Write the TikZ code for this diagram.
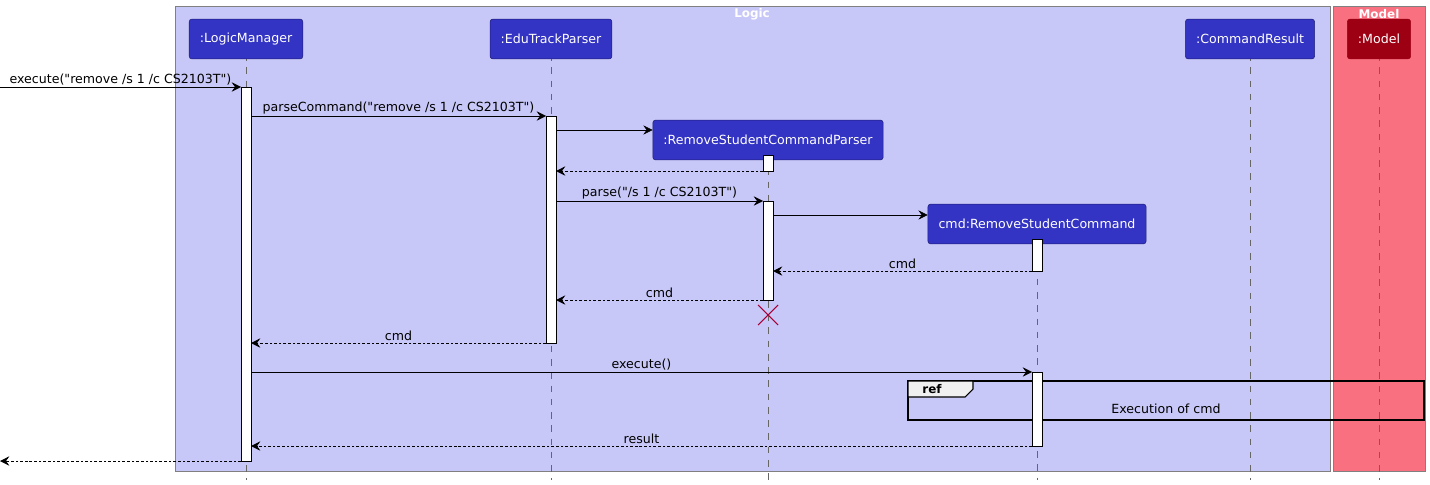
\documentclass[tikz,border=0pt]{standalone}
\usepackage{fontspec}
\setmainfont{DejaVu Sans}
\newfontfamily\dvsans{DejaVu Sans}
\usetikzlibrary{arrows.meta,positioning}
\definecolor{logicbg}{HTML}{C8C8F8}
\definecolor{headbg}{HTML}{3333C4}
\definecolor{modelbg}{HTML}{F97181}
\definecolor{modelhead}{HTML}{9D0012}
\definecolor{killcol}{HTML}{A80036}
\tikzset{
 head/.style={draw=headbg!60!black,fill=headbg,text=white,rounded corners=2pt,minimum height=30,inner xsep=8,font=\dvsans\fontsize{9.5}{11}\selectfont},
 life/.style={gray!80!black,dash pattern=on 5 off 5,very thin},
 act/.style={draw=black,fill=white,thin},
 msg/.style={-{Stealth[length=7pt,width=7pt,inset=2.5pt]},thin},
 ret/.style={msg,dash pattern=on 2pt off 1.5pt},
 lbl/.style={font=\dvsans\fontsize{9.5}{11}\selectfont,inner sep=1.5pt}
}
\begin{document}
\begin{tikzpicture}[x=0.0265cm,y=-0.0265cm]
\useasboundingbox (0,0) rectangle (1430,484);
% boxes
\fill[logicbg,draw=gray] (175,6) rectangle (1330,471);
\fill[modelbg,draw=gray] (1333,6) rectangle (1425,471);
\node[text=white,font=\bfseries\fontsize{9}{10}\selectfont] at (752,14) {Logic};
\node[text=white,font=\bfseries\fontsize{9}{10}\selectfont] at (1379,14) {Model};
% lifelines
\foreach \x in {246,551,1250,1379} \draw[life] (\x,54) -- (\x,480);
\draw[life] (768,155) -- (768,480);
\draw[life] (1037,239) -- (1037,480);
% participants
\node[head] (lm) at (246,39) {:LogicManager};
\node[head] (etp) at (551,39) {:EduTrackParser};
\node[head] (cr) at (1250,39) {:CommandResult};
\node[head,fill=modelhead,draw=modelhead] (mdl) at (1379,39) {:Model};
\node[head] (rscp) at (768,140) {:RemoveStudentCommandParser};
\node[head] (rsc) at (1037,224) {cmd:RemoveStudentCommand};
% activations
\draw[act] (241,87) rectangle (251,461);
\draw[act] (546,116) rectangle (556,343);
\draw[act] (763,155) rectangle (773,171);
\draw[act] (763,201) rectangle (773,300);
\draw[act] (1032,239) rectangle (1042,271);
% ref frame
\draw[thick] (908,381) rectangle (1424,420);
\draw[thick,fill=gray!12] (908,381) -- (973,381) -- (973,389) -- (965,397) -- (908,397) -- cycle;
\node[font=\bfseries\fontsize{9}{10}\selectfont] at (932,389) {ref};
\node[lbl] at (1166,409) {Execution of cmd};
\draw[act] (1032,372) rectangle (1042,446);
% messages
\coordinate (in) at (0,87); \coordinate (lmA) at (241,87);
\draw[msg] (in) -- node[lbl,above]{execute("remove /s 1 /c CS2103T")} (lmA);
\coordinate (lmB) at (251,116); \coordinate (etpB) at (546,116);
\draw[msg] (lmB) -- node[lbl,above]{parseCommand("remove /s 1 /c CS2103T")} (etpB);
\coordinate (etpC) at (556,130);
\draw[msg] (etpC) -- (rscp.west |- etpC);
\coordinate (rscpD) at (763,171); \coordinate (etpD) at (556,171);
\draw[ret] (rscpD) -- (etpD);
\coordinate (etpE) at (556,201); \coordinate (rscpE) at (763,201);
\draw[msg] (etpE) -- node[lbl,above]{parse("/s 1 /c CS2103T")} (rscpE);
\coordinate (rscpF) at (773,215);
\draw[msg] (rscpF) -- (rsc.west |- rscpF);
\coordinate (rscG) at (1032,271); \coordinate (rscpG) at (773,271);
\draw[ret] (rscG) -- node[lbl,above]{cmd} (rscpG);
\coordinate (rscpH) at (763,300); \coordinate (etpH) at (556,300);
\draw[ret] (rscpH) -- node[lbl,above]{cmd} (etpH);
\draw[killcol,thick] (758,305) -- (778,325) (778,305) -- (758,325);
\coordinate (etpI) at (546,343); \coordinate (lmI) at (251,343);
\draw[ret] (etpI) -- node[lbl,above]{cmd} (lmI);
\coordinate (lmJ) at (251,372); \coordinate (rscJ) at (1032,372);
\draw[msg] (lmJ) -- node[lbl,above]{execute()} (rscJ);
\coordinate (rscK) at (1032,446); \coordinate (lmK) at (251,446);
\draw[ret] (rscK) -- node[lbl,above]{result} (lmK);
\coordinate (lmL) at (241,461); \coordinate (out) at (0,461);
\draw[ret] (lmL) -- (out);
\end{tikzpicture}
\end{document}
